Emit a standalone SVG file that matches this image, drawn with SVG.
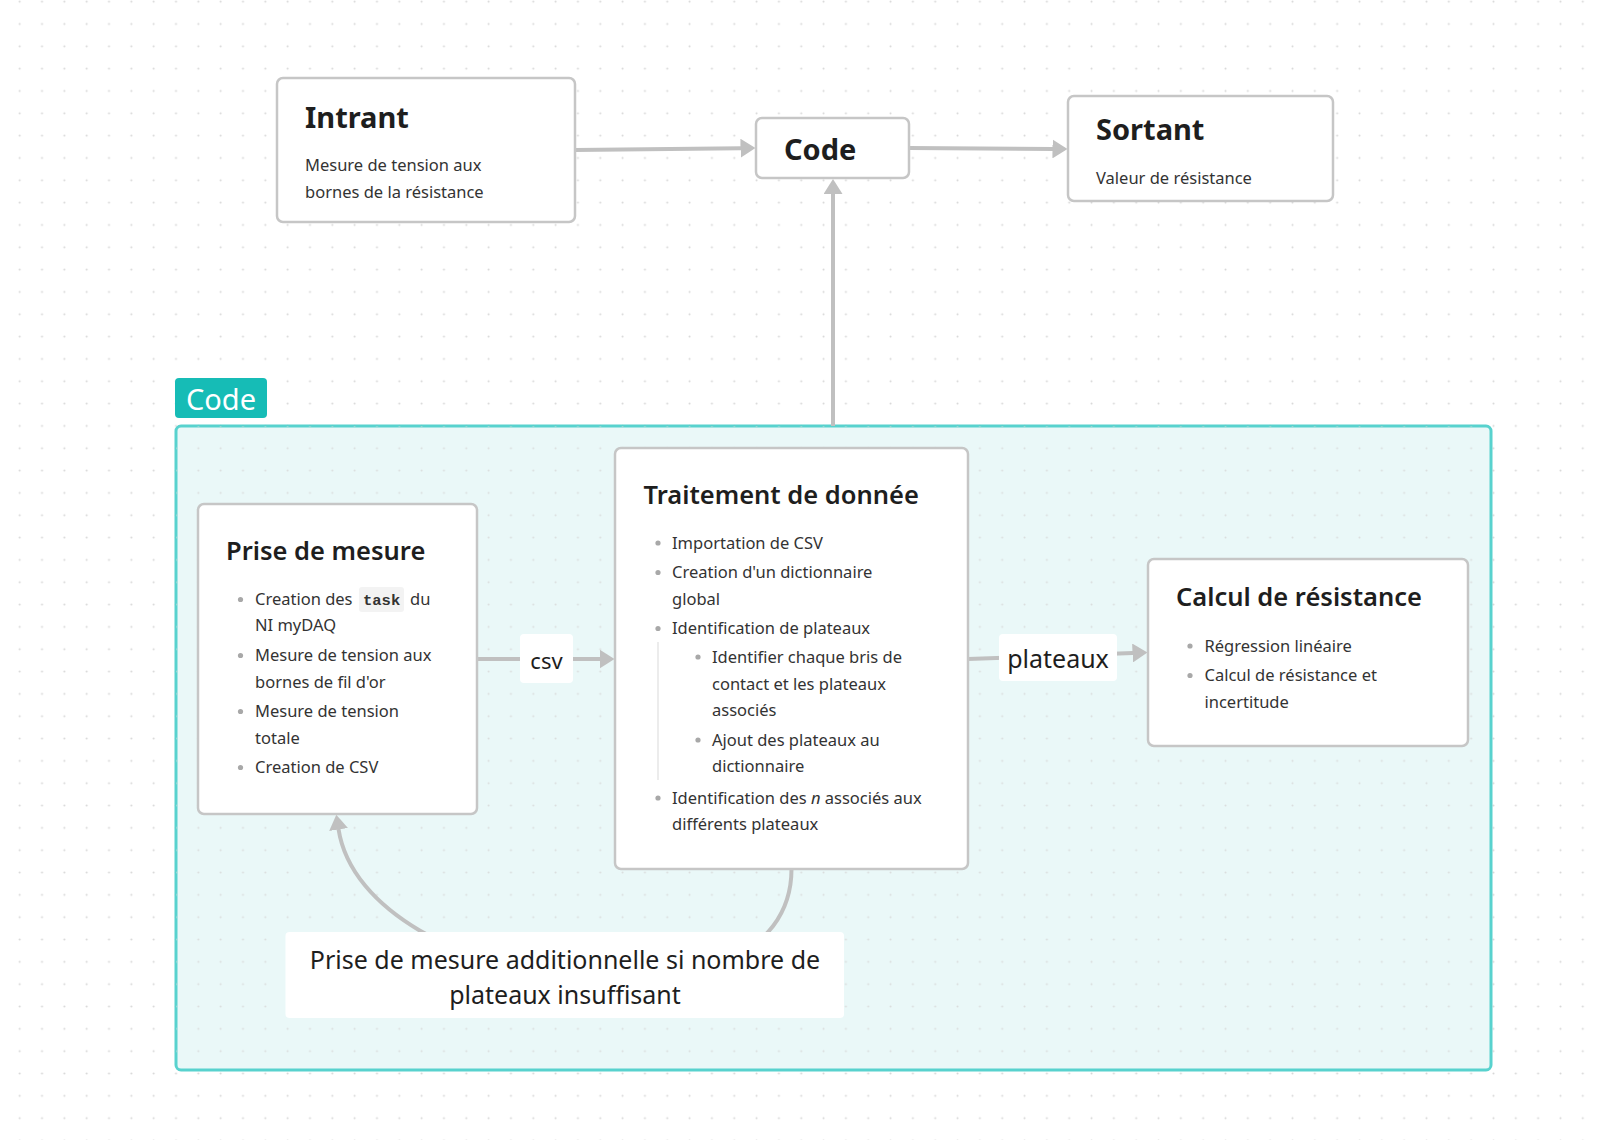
<svg xmlns="http://www.w3.org/2000/svg" width="1599" height="1140" viewBox="0 0 1599 1140">
<defs>
<pattern id="dots" patternUnits="userSpaceOnUse" width="22.33" height="22.33" x="8.5" y="-9.5">
<circle cx="11.2" cy="11.2" r="1" fill="#d6d6d6"/>
</pattern>
<marker id="arr" viewBox="0 0 15 19" refX="0.5" refY="9.5" markerWidth="15" markerHeight="19" orient="auto" markerUnits="userSpaceOnUse">
<path d="M0,0 L15,9.5 L0,19 Z" fill="#c0c0c0"/>
</marker>
<style>
.node{fill:#ffffff;stroke:#c6c6c6;stroke-width:2.5}
.big{font-family:"Noto Sans","Open Sans",sans-serif;font-weight:700;fill:#1e1e1e}
.title{font-family:"Noto Sans","Open Sans",sans-serif;font-weight:600;fill:#1e1e1e;font-size:25.5px}
.body{font-family:"Noto Sans","Open Sans",sans-serif;fill:#333333;font-size:16.5px}
.bul{fill:#a8a8a8}
.conn{fill:none;stroke:#c0c0c0;stroke-width:4}
.lbl{font-family:"Noto Sans","Open Sans",sans-serif;fill:#1e1e1e}
</style>
</defs>
<rect width="1599" height="1140" fill="#ffffff"/>
<rect width="1599" height="1140" fill="url(#dots)"/>

<g id="group-code">
<rect x="176" y="426" width="1315" height="644" rx="5" fill="#eaf8f8" stroke="#58d2ce" stroke-width="3"/>
<rect x="176" y="426" width="1315" height="644" rx="5" fill="url(#dots)" opacity="0.8"/>
<rect x="175" y="378" width="92" height="40" rx="4" fill="#16bcb6"/>
<text x="221" y="410" text-anchor="middle" font-family="Noto Sans, Open Sans, sans-serif" font-size="29" fill="#ffffff">Code</text>
</g>

<g id="connectors">
<path class="conn" d="M575,150 L741,148.2" marker-end="url(#arr)"/>
<path class="conn" d="M909,148 L1053,148.9" marker-end="url(#arr)"/>
<path class="conn" d="M833,426 L833,193.5" marker-end="url(#arr)"/>
<path class="conn" d="M477,659 L600,659" marker-end="url(#arr)"/>
<path class="conn" d="M968,659 L1133,653" marker-end="url(#arr)"/>
<path class="conn" d="M791.5,869 C791.5,1050 364,995 338.5,829" marker-end="url(#arr)"/>
<rect x="520" y="634" width="53" height="49" rx="4" fill="#ffffff"/>
<text class="lbl" x="546.5" y="669" text-anchor="middle" font-size="22">csv</text>
<rect x="999" y="634" width="118" height="47" rx="4" fill="#ffffff"/>
<text class="lbl" x="1058" y="668" text-anchor="middle" font-size="25">plateaux</text>
<rect x="285.5" y="932" width="558.5" height="86" rx="4" fill="#ffffff"/>
<text class="lbl" x="565" y="969" text-anchor="middle" font-size="25">Prise de mesure additionnelle si nombre de</text>
<text class="lbl" x="565" y="1004" text-anchor="middle" font-size="25">plateaux insuffisant</text>
</g>

<g id="node-intrant">
<rect class="node" x="277" y="78" width="298" height="144" rx="6"/>
<text class="big" x="305" y="128" font-size="29">Intrant</text>
<text class="body" x="305" y="171">Mesure de tension aux</text>
<text class="body" x="305" y="198">bornes de la résistance</text>
</g>

<g id="node-code">
<rect class="node" x="756" y="118" width="153" height="60" rx="6"/>
<text class="big" x="784" y="160" font-size="29">Code</text>
</g>

<g id="node-sortant">
<rect class="node" x="1068" y="96" width="265" height="105" rx="6"/>
<text class="big" x="1096" y="140" font-size="29">Sortant</text>
<text class="body" x="1096" y="184">Valeur de résistance</text>
</g>

<g id="node-prise">
<rect class="node" x="198" y="504" width="279" height="310" rx="6"/>
<text class="title" x="226" y="560">Prise de mesure</text>
<circle class="bul" cx="240.5" cy="599.5" r="2.6"/>
<text class="body" x="255" y="605">Creation des</text>
<rect x="359" y="587" width="45" height="25" rx="3" fill="#f3f3f3"/>
<text x="363" y="605" font-family="Liberation Mono, monospace" font-size="15.5" font-weight="700" fill="#333333">task</text>
<text class="body" x="410" y="605">du</text>
<text class="body" x="255" y="631">NI myDAQ</text>
<circle class="bul" cx="240.5" cy="655.5" r="2.6"/>
<text class="body" x="255" y="661">Mesure de tension aux</text>
<text class="body" x="255" y="687.5">bornes de fil d'or</text>
<circle class="bul" cx="240.5" cy="711.5" r="2.6"/>
<text class="body" x="255" y="717">Mesure de tension</text>
<text class="body" x="255" y="743.5">totale</text>
<circle class="bul" cx="240.5" cy="767.5" r="2.6"/>
<text class="body" x="255" y="773">Creation de CSV</text>
</g>

<g id="node-traitement">
<rect class="node" x="615" y="448" width="353" height="421" rx="6"/>
<text class="title" x="643.5" y="504">Traitement de donnée</text>
<circle class="bul" cx="658" cy="543" r="2.6"/>
<text class="body" x="672" y="548.5">Importation de CSV</text>
<circle class="bul" cx="658" cy="572.5" r="2.6"/>
<text class="body" x="672" y="578">Creation d'un dictionnaire</text>
<text class="body" x="672" y="605">global</text>
<circle class="bul" cx="658" cy="628.5" r="2.6"/>
<text class="body" x="672" y="634">Identification de plateaux</text>
<line x1="658" y1="642" x2="658" y2="780" stroke="#e6e6e6" stroke-width="1.5"/>
<circle class="bul" cx="698" cy="657" r="2.6"/>
<text class="body" x="712" y="663">Identifier chaque bris de</text>
<text class="body" x="712" y="689.5">contact et les plateaux</text>
<text class="body" x="712" y="716">associés</text>
<circle class="bul" cx="698" cy="740" r="2.6"/>
<text class="body" x="712" y="745.5">Ajout des plateaux au</text>
<text class="body" x="712" y="772">dictionnaire</text>
<circle class="bul" cx="658" cy="798" r="2.6"/>
<text class="body" x="672" y="803.5">Identification des <tspan font-style="italic">n</tspan> associés aux</text>
<text class="body" x="672" y="830">différents plateaux</text>
</g>

<g id="node-calcul">
<rect class="node" x="1148" y="559" width="320" height="187" rx="6"/>
<text class="title" x="1176" y="606">Calcul de résistance</text>
<circle class="bul" cx="1190" cy="646" r="2.6"/>
<text class="body" x="1204.5" y="651.5">Régression linéaire</text>
<circle class="bul" cx="1190" cy="675.5" r="2.6"/>
<text class="body" x="1204.5" y="681">Calcul de résistance et</text>
<text class="body" x="1204.5" y="707.5">incertitude</text>
</g>
</svg>
